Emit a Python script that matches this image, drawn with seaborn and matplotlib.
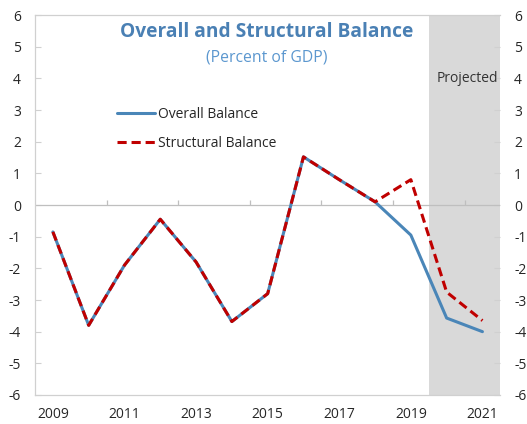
import seaborn as sns
import matplotlib.pyplot as plt
import numpy as np
import pandas as pd

years = np.arange(2009, 2022)
overall = [-0.85, -3.8, -1.9, -0.45, -1.8, -3.68, -2.8, 1.52, 0.8, 0.1, -0.95, -3.57, -4.0]
structural = [-0.85, -3.8, -1.9, -0.45, -1.8, -3.68, -2.8, 1.52, 0.8, 0.1, 0.8, -2.75, -3.65]
yticks = np.arange(-6, 7)
xticks = years[::2]
proj_start = 2019.5

sns.set_style("white")
plt.rcParams['font.family'] = ['Open Sans', 'DejaVu Sans']
plt.rcParams['axes.unicode_minus'] = False

df = pd.DataFrame({"year": years, "Overall Balance": overall, "Structural Balance": structural})

fig = plt.figure(figsize=(5.27, 4.24), dpi=100)
ax = fig.add_axes([0.0664, 0.0684, 0.883, 0.8962])

ax.axvspan(proj_start, years[-1] + 0.5, color="#d9d9d9", lw=0, zorder=0)
ax.axhline(0, color="#bfbfbf", lw=0.9, zorder=1)
ax.vlines(years[1::2] + 0.5, 0, 0.15, color="#bfbfbf", lw=0.9, zorder=1)

sns.lineplot(data=df, x="year", y="Overall Balance", ax=ax, color="#4a86b8", lw=2.2,
             label="Overall Balance", zorder=3)
sns.lineplot(data=df, x="year", y="Structural Balance", ax=ax, color="#c00000", lw=2.2,
             dashes=False, linestyle=(0, (3, 1.6)), label="Structural Balance", zorder=4)

ax.set_xlim(years[0] - 0.5, years[-1] + 0.5)
ax.set_ylim(-6, 6)
ax.set_xticks(xticks)
ax.set_xticklabels([str(y) for y in xticks])
ax.set_yticks(yticks)
ax.set_xlabel("")
ax.set_ylabel("")
ax.tick_params(axis="x", length=0, pad=9, labelsize=10, colors="#262626")
ax.tick_params(axis="y", direction="in", length=4, color="#d0d0d0", labelsize=10,
               labelcolor="#262626", left=True, right=True, labelleft=True, labelright=True, pad=10)

for side in ["left", "bottom", "top"]:
    ax.spines[side].set_color("#d0d0d0")
    ax.spines[side].set_linewidth(0.9)
ax.spines["right"].set_visible(False)

ax.text(0.497, 0.955, "Overall and Structural Balance", transform=ax.transAxes,
        ha="center", va="center", fontsize=13.8, fontweight="bold", color="#4a80b4")
ax.text(0.497, 0.888, "(Percent of GDP)", transform=ax.transAxes,
        ha="center", va="center", fontsize=11.3, color="#5b97cf")
ax.text(0.93, 0.832, "Projected", transform=ax.transAxes,
        ha="center", va="center", fontsize=10, color="#333333")

leg = ax.legend(loc="upper left", bbox_to_anchor=(0.15, 0.79), frameon=False,
                fontsize=10, handlelength=2.7, handletextpad=0.2, labelspacing=1.0)
for t in leg.get_texts():
    t.set_color("#262626")

fig.savefig("out.png", dpi=100)
